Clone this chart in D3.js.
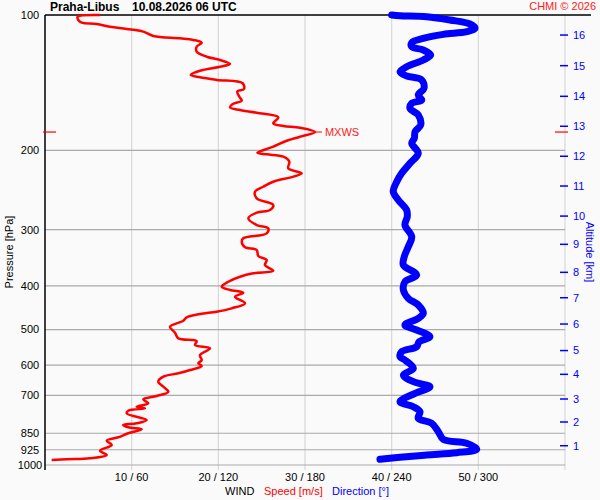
<!DOCTYPE html>
<html>
<head>
<meta charset="utf-8">
<script src="https://cdn.jsdelivr.net/npm/d3@7"></script>
<style>
    body { margin: 0; background: #fafafa; }
    svg { display: block; font-family: "Liberation Sans", Arial, sans-serif; }
</style>
</head>
<body>
<div id="chart"></div>
<script>
'use strict';

// Wind speed profile [m/s] against pressure [hPa]
var speedPressure = [100, 100.9, 102.6, 104.0, 104.7, 106.2, 107.4, 108.9, 111.3, 112.7,
    113.6, 115.2, 117.6, 120.6, 123.8, 125.9, 128.5, 130.3, 133.0, 135.9,
    137.5, 139.4, 141.8, 146.0, 148.0, 151.9, 155.0, 157.7, 160.4, 162.6,
    164.9, 168.8, 174.1, 176.5, 178.1, 182.0, 186.5, 190.3, 196.2, 202.3,
    204.0, 206.5, 211.8, 219.1, 224.8, 228.7, 234.7, 240.8, 247.0, 255.5,
    264.4, 271.3, 275.0, 283.0, 292.9, 297.9, 305.6, 313.5, 319.0, 328.3,
    332.9, 343.3, 350.4, 359.4, 370.0, 375.0, 381.6, 391.5, 401.7, 408.4,
    414.1, 422.7, 437.2, 448.6, 456.4, 461.8, 469.7, 478.0, 492.9, 508.2,
    523.1, 530.4, 541.3, 550.6, 569.8, 584.6, 594.3, 602.6, 615.1, 625.5,
    636.5, 653.0, 669.9, 687.3, 702.6, 714.5, 729.3, 742.1, 748.2, 757.4,
    767.6, 794.3, 807.8, 814.9, 824.5, 833.0, 850.2, 867.8, 883.1, 902.7,
    929.4, 950.0, 966.2, 971.2, 974.7];
var speedValues = [6.35, 3.77, 3.84, 4.23, 5.97, 7.5, 9.43, 11.34, 12.5, 15.58,
    17.11, 18.08, 17.5, 17.5, 18.66, 20.19, 21.35, 20.19, 17.88, 16.81,
    17.88, 19.81, 22.81, 22.96, 22.19, 22.42, 22.7, 21.66, 21.35, 22.5,
    24.43, 26.92, 26.34, 27.5, 29.42, 31.15, 29.42, 27.89, 26.34, 24.5,
    25.58, 27.5, 28.19, 28.07, 29.62, 28.65, 26.34, 25.19, 24.23, 24.43,
    26.34, 25.96, 24.43, 23.46, 24.43, 25.76, 25.58, 22.88, 22.7, 23.08,
    24.43, 24.61, 25.58, 25.38, 26.34, 24.03, 22.5, 21.15, 20.39, 21.35,
    22.88, 21.92, 23.08, 21.54, 19.81, 17.88, 16.35, 15.96, 14.42, 15.0,
    15.38, 17.5, 17.31, 19.04, 17.88, 18.08, 17.69, 18.08, 16.73, 15.38,
    13.65, 13.07, 13.65, 14.23, 12.89, 11.34, 11.92, 10.58, 11.54, 9.61,
    9.43, 11.73, 10.58, 9.03, 9.61, 11.16, 9.61, 8.46, 7.12, 7.7,
    6.35, 7.12, 5.19, 2.5, 0.77];

// Wind direction profile [deg] against pressure [hPa]
var dirPressure = [100, 100.4, 100.9, 102.6, 104.7, 107.0, 108.9, 110.4, 112.7, 115.2,
    117.6, 119.6, 122.7, 125.9, 130.3, 133.7, 136.6, 139.4, 145.5, 150.6,
    154.5, 157.1, 161.3, 166.8, 175.6, 181.7, 187.9, 192.8, 202.9, 213.6,
    224.8, 234.7, 247.0, 257.7, 271.3, 280.7, 292.9, 311.0, 327.3, 344.5,
    359.4, 378.2, 391.5, 408.4, 426.2, 441.0, 460.1, 472.1, 488.6, 501.2,
    518.8, 532.3, 546.0, 560.2, 574.7, 584.6, 609.8, 631.0, 653.0, 669.9,
    692.9, 723.2, 742.1, 761.4, 787.6, 807.8, 843.3, 876.8, 894.9, 922.8,
    939.1, 950.0, 961.3, 971.2];
var dirValues = [240.0, 245.8, 264.2, 280.4, 294.2, 297.7, 291.9, 275.7, 261.9, 253.9,
    253.9, 261.9, 267.0, 261.9, 250.4, 245.8, 250.4, 260.8, 262.4, 258.4,
    260.8, 253.9, 252.7, 258.4, 260.1, 256.2, 255.7, 253.9, 258.4, 252.7,
    246.9, 243.5, 241.1, 244.6, 250.4, 250.8, 249.2, 253.9, 251.5, 248.7,
    248.1, 257.3, 249.2, 248.1, 251.5, 258.4, 261.9, 258.4, 249.2, 257.3,
    266.5, 259.0, 257.3, 246.9, 245.8, 249.2, 255.0, 248.1, 255.0, 266.5,
    256.2, 245.8, 255.0, 259.6, 258.4, 267.7, 272.3, 275.7, 291.9, 298.9,
    285.0, 264.2, 245.8, 231.9];

var pressureTicks = [100, 200, 300, 400, 500, 600, 700, 850, 925, 1000];
var speedTicks = [10, 20, 30, 40, 50];
var dirTicks = [60, 120, 180, 240, 300];
var altitudeKm = [1, 2, 3, 4, 5, 6, 7, 8, 9, 10, 11, 12, 13, 14, 15, 16];
var altitudePressure = [906.1, 802.5, 713.4, 628.8, 556.8, 486.1, 424.9, 373.1, 323.3, 279.8,
    239.9, 206.0, 176.7, 151.6, 129.6, 110.8];

var width = 600,
    height = 500,
    margin = { top: 15, right: 35, bottom: 35, left: 45 },
    plotW = width - margin.left - margin.right,
    plotH = height - margin.top - margin.bottom;

var svg = d3.select('#chart')
    .append('svg')
        .attr('width', width)
        .attr('height', height);

svg.append('rect')
    .attr('width', width)
    .attr('height', height)
    .attr('fill', '#fafafa');

var y = d3.scaleLog().domain([100, 1000]).range([margin.top, margin.top + plotH]);
var xs = d3.scaleLinear().domain([0, 60]).range([margin.left, margin.left + plotW]);
var xd = d3.scaleLinear().domain([0, 360]).range([margin.left, margin.left + plotW]);

/*
 * GRID
 */
svg.append('g')
    .selectAll('line')
    .data(speedTicks.concat([60]))
    .join('line')
        .attr('x1', function (d) { return xs(d); })
        .attr('x2', function (d) { return xs(d); })
        .attr('y1', margin.top)
        .attr('y2', margin.top + plotH + 5)
        .attr('stroke', '#d8d8d8')
        .attr('stroke-width', 1.2);

svg.append('g')
    .selectAll('line')
    .data(pressureTicks.slice(1))
    .join('line')
        .attr('x1', margin.left)
        .attr('x2', xs(60))
        .attr('y1', function (d) { return y(d); })
        .attr('y2', function (d) { return y(d); })
        .attr('stroke', '#aaaaaa')
        .attr('stroke-width', 1.2);

// Top and left frame
svg.append('line')
    .attr('x1', margin.left).attr('x2', width - 9)
    .attr('y1', margin.top).attr('y2', margin.top)
    .attr('stroke', '#000').attr('stroke-width', 1.5);
svg.append('line')
    .attr('x1', margin.left).attr('x2', margin.left)
    .attr('y1', margin.top).attr('y2', margin.top + plotH + 5)
    .attr('stroke', '#000').attr('stroke-width', 1.5);

/*
 * PROFILES
 */
var dirLine = d3.line()
    .curve(d3.curveCatmullRom)
    .x(function (d) { return xd(d[1]); })
    .y(function (d) { return y(d[0]); });

svg.append('path')
    .datum(d3.zip(dirPressure, dirValues))
    .attr('d', dirLine)
    .attr('fill', 'none')
    .attr('stroke', '#0000ff')
    .attr('stroke-width', 7)
    .attr('stroke-linejoin', 'round')
    .attr('stroke-linecap', 'round');

var speedLine = d3.line()
    .curve(d3.curveCatmullRom)
    .x(function (d) { return xs(d[1]); })
    .y(function (d) { return y(d[0]); });

svg.append('path')
    .datum(d3.zip(speedPressure, speedValues))
    .attr('d', speedLine)
    .attr('fill', 'none')
    .attr('stroke', '#ff0000')
    .attr('stroke-width', 2.5)
    .attr('stroke-linejoin', 'round');

// Max wind marker
var iMax = d3.maxIndex(speedValues),
    pMax = speedPressure[iMax],
    vMax = speedValues[iMax];

svg.append('line')
    .attr('x1', xs(vMax)).attr('x2', xs(vMax) + 7)
    .attr('y1', y(pMax)).attr('y2', y(pMax))
    .attr('stroke', '#ff0000');
svg.append('text')
    .attr('x', xs(vMax) + 10)
    .attr('y', y(pMax))
    .attr('dy', '0.35em')
    .attr('font-size', 11)
    .attr('fill', '#ff2020')
    .text('MXWS');
[[margin.left - 2, margin.left + 11], [xs(60) - 10, xs(60) + 3]].forEach(function (s) {
    svg.append('line')
        .attr('x1', s[0]).attr('x2', s[1])
        .attr('y1', y(pMax)).attr('y2', y(pMax))
        .attr('stroke', '#ff0000')
        .attr('stroke-width', 1.2);
});

/*
 * AXES
 */
svg.append('g')
    .selectAll('text')
    .data(pressureTicks)
    .join('text')
        .attr('x', 30)
        .attr('y', function (d) { return y(d); })
        .attr('dy', '0.35em')
        .attr('text-anchor', 'middle')
        .attr('font-size', 11)
        .attr('fill', '#000')
        .text(function (d) { return d; });

svg.append('g')
    .selectAll('text')
    .data(d3.zip(speedTicks, dirTicks))
    .join('text')
        .attr('x', function (d) { return xs(d[0]); })
        .attr('y', 481)
        .attr('text-anchor', 'middle')
        .attr('font-size', 11)
        .attr('fill', '#000')
        .text(function (d) { return d[0] + ' / ' + d[1]; });

var alt = svg.append('g')
    .selectAll('g')
    .data(d3.zip(altitudeKm, altitudePressure))
    .join('g')
        .attr('transform', function (d) { return 'translate(0,' + y(d[1]) + ')'; });
alt.append('line')
    .attr('x1', xs(60) - 5).attr('x2', xs(60) + 3)
    .attr('stroke', '#0000ff')
    .attr('stroke-width', 1.5);
alt.append('text')
    .attr('x', xs(60) + 8)
    .attr('dy', '0.35em')
    .attr('font-size', 11)
    .attr('fill', '#0000ff')
    .text(function (d) { return d[0]; });

/*
 * LABELS
 */
svg.append('text')
    .attr('x', 50).attr('y', 11)
    .attr('font-size', 12).attr('font-weight', 'bold')
    .text('Praha-Libus');
svg.append('text')
    .attr('x', 132).attr('y', 11)
    .attr('font-size', 12).attr('font-weight', 'bold')
    .text('10.08.2026 06 UTC');
svg.append('text')
    .attr('x', 596).attr('y', 10)
    .attr('text-anchor', 'end')
    .attr('font-size', 11)
    .attr('fill', '#ff2020')
    .text('CHMI © 2026');

svg.append('text')
    .attr('transform', 'translate(12.5,252) rotate(-90)')
    .attr('text-anchor', 'middle')
    .attr('font-size', 11)
    .text('Pressure [hPa]');
svg.append('text')
    .attr('transform', 'translate(586,252) rotate(90)')
    .attr('text-anchor', 'middle')
    .attr('font-size', 11)
    .attr('fill', '#0000ff')
    .text('Altitude [km]');

var legend = svg.append('text')
    .attr('y', 495)
    .attr('font-size', 11);
legend.append('tspan').attr('x', 225).attr('fill', '#000').text('WIND');
legend.append('tspan').attr('x', 264).attr('fill', '#ff0000').text('Speed [m/s]');
legend.append('tspan').attr('x', 332).attr('fill', '#0000ff').text('Direction [°]');
</script>
</body>
</html>
